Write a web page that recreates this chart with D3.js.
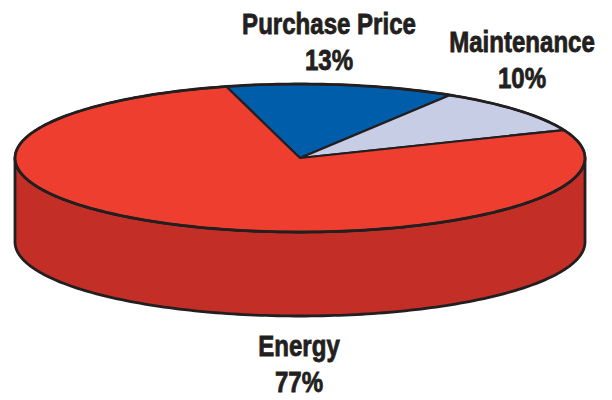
<!DOCTYPE html>
<html>
<head>
<meta charset="utf-8">
<script src="https://cdn.jsdelivr.net/npm/d3@7"></script>
<style>body{margin:0;background:#fff}</style>
</head>
<body>
<div id="chart"></div>
<script>
// data
var categories = ["Purchase Price", "Maintenance", "Energy"];
var shares = [13, 10, 77];
var shareLabels = ["13%", "10%", "77%"];

var width = 612, height = 400;
var cx = 300, cy = 158, rx = 285, ry = 74, depth = 84;
var topColors = ["#005DAA", "#C8CDE6", "#EE3E2F"];
var sideColors = ["#004A88", "#A3A8C2", "#C32F26"];
var ink = "#231F20";

var svg = d3.select("#chart").append("svg")
    .attr("width", width)
    .attr("height", height);

var start = -15 * Math.PI / 180;
var pie = d3.pie().sort(null).startAngle(start).endAngle(start + 2 * Math.PI);
var slices = pie(shares);

// angle measured clockwise from the top of the tilted disc
function pt(a, dy) {
    return [cx + rx * Math.sin(a), cy - ry * Math.cos(a) + (dy || 0)];
}
function arcPts(a0, a1, dy) {
    var n = Math.max(2, Math.ceil(Math.abs(a1 - a0) / 0.02)), out = [];
    for (var i = 0; i <= n; i++) out.push(pt(a0 + (a1 - a0) * i / n, dy));
    return out;
}
var line = d3.line().curve(d3.curveLinear);

// side walls (only the front half is seen)
slices.forEach(function(d, i) {
    var s0 = Math.max(d.startAngle, Math.PI / 2), s1 = Math.min(d.endAngle, 3 * Math.PI / 2);
    if (s1 <= s0) return;
    var pts = arcPts(s0, s1, 0).concat(arcPts(s1, s0, depth));
    svg.append("path")
        .attr("d", line(pts) + "Z")
        .attr("fill", sideColors[i])
        .attr("stroke", ink)
        .attr("stroke-width", 2.8)
        .attr("stroke-linejoin", "round");
});

// top face wedges
slices.forEach(function(d, i) {
    var pts = [[cx, cy]].concat(arcPts(d.startAngle, d.endAngle, 0));
    svg.append("path")
        .attr("d", line(pts) + "Z")
        .attr("fill", topColors[i])
        .attr("stroke", ink)
        .attr("stroke-width", 2.2)
        .attr("stroke-linejoin", "round");
});

// outer rim of the top face
svg.append("path")
    .attr("d", line(arcPts(0, 2 * Math.PI, 0)) + "Z")
    .attr("fill", "none")
    .attr("stroke", ink)
    .attr("stroke-width", 2.8);

// label anchors, condensed heavy type
var labelPos = [[329, 34], [522, 52], [299, 356]];
slices.forEach(function(d, i) {
    var g = svg.append("g")
        .attr("transform", "translate(" + labelPos[i][0] + "," + labelPos[i][1] + ") scale(0.83,1)");
    var t = g.append("text")
        .attr("text-anchor", "middle")
        .attr("font-family", "'Liberation Sans', Arial, sans-serif")
        .attr("font-weight", "bold")
        .attr("font-size", 29)
        .attr("fill", ink)
        .attr("stroke", ink)
        .attr("stroke-width", 0.8);
    t.append("tspan").attr("x", 0).text(categories[i]);
    t.append("tspan").attr("x", 0).attr("dy", 36).text(shareLabels[i]);
});
</script>
</body>
</html>
